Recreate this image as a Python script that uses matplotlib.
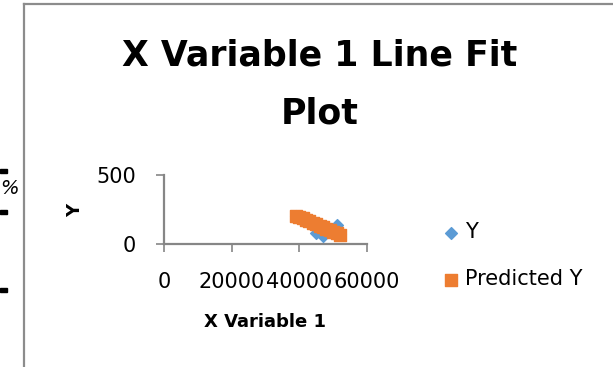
import matplotlib.pyplot as plt
from matplotlib.lines import Line2D
from matplotlib.patches import Rectangle

# X Variable 1 vs Y, with regression predictions
x_var = [39000, 40000, 41000, 42000, 43000, 44000, 45000, 46000,
         47000, 48000, 49000, 50000, 51000, 52000]
y_obs = [200, 190, 180, 170, 160, 150, 80, 125, 55, 110, 95, 85, 140, 70]
y_pred = [205, 195, 185, 175, 165, 155, 143, 132, 122, 112, 100, 90, 78, 66]

x_ticks = [0, 20000, 40000, 60000]
y_ticks = [0, 500]

W, H = 613, 367
fig = plt.figure(figsize=(W / 100, H / 100), dpi=100)
fig.patch.set_facecolor('white')

def px(x, y):
    return x / W, 1 - y / H

font = 'DejaVu Sans'
grey = '#868686'

# chart frame (left and top edges visible)
fig.add_artist(Line2D([24 / W, 24 / W], [1 - 4 / H, 0], color='#8c8c8c', lw=1.6,
                      transform=fig.transFigure))
fig.add_artist(Line2D([24 / W, 1], [1 - 4 / H, 1 - 4 / H], color='#8c8c8c', lw=1.6,
                      transform=fig.transFigure))

# bits of the sheet behind the chart
for yy in (171, 212, 290):
    fig.add_artist(Rectangle(px(0, yy + 2), 7 / W, 4 / H, color='black',
                             transform=fig.transFigure))
fig.text(*px(0, 188), '%', fontsize=14, style='italic', family=font,
         ha='left', va='center')

ax = fig.add_axes([164 / W, 1 - 244 / H, 203 / W, 69 / H])
ax.scatter(x_var, y_obs, marker='D', s=36, color='#5b9bd5', zorder=3, label='Y')
ax.scatter(x_var, y_pred, marker='s', s=70, color='#ed7d31', zorder=4,
           label='Predicted Y')

ax.set_xlim(0, 60000)
ax.set_ylim(0, 500)
ax.set_xticks(x_ticks)
ax.set_yticks(y_ticks)
ax.set_xticklabels([str(v) for v in x_ticks], fontsize=15, family=font)
ax.set_yticklabels([str(v) for v in y_ticks], fontsize=15, family=font)
ax.tick_params(axis='x', length=6, width=1.2, color=grey, pad=14.5)
ax.tick_params(axis='y', length=6, width=1.2, color=grey, pad=14)
for s in ('top', 'right'):
    ax.spines[s].set_visible(False)
for s in ('left', 'bottom'):
    ax.spines[s].set_color(grey)
    ax.spines[s].set_linewidth(1.6)

fig.text(*px(75, 210), 'Y', fontsize=13, fontweight='bold', family=font,
         rotation=90, ha='center', va='center')
fig.text(*px(265, 322), 'X Variable 1', fontsize=13, fontweight='bold',
         family=font, ha='center', va='center')

fig.text(*px(320, 56), 'X Variable 1 Line Fit', fontsize=25, fontweight='bold',
         family=font, ha='center', va='center')
fig.text(*px(320, 113), 'Plot', fontsize=25, fontweight='bold',
         family=font, ha='center', va='center')

ax.legend(loc='upper left', bbox_to_anchor=px(438, 222), bbox_transform=fig.transFigure,
          frameon=False, prop={'family': font, 'size': 15}, handletextpad=0.1,
          labelspacing=1.3, handlelength=1.2, borderaxespad=0, borderpad=0)

fig.savefig('out.png', dpi=100)
